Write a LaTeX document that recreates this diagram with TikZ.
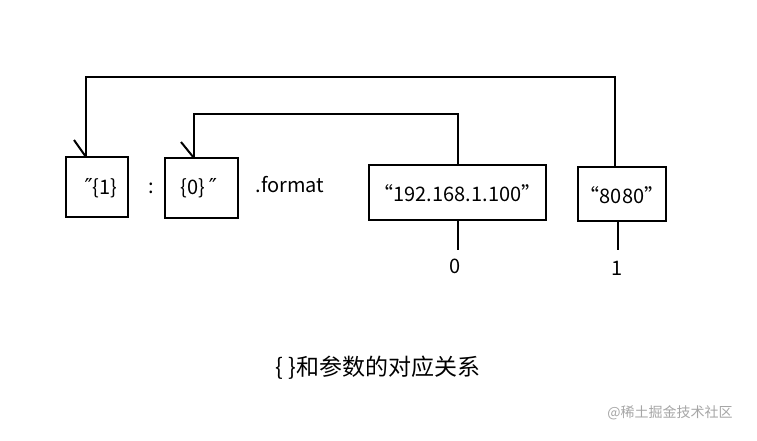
\documentclass[tikz,border=0pt]{standalone}
\usepackage{fontspec}
\setmainfont{Noto Sans CJK SC}
\newfontfamily\djv{DejaVu Sans}
\begin{document}
\begin{tikzpicture}[x=1pt,y=-1pt,
  bx/.style={draw,line width=2.5pt,inner sep=0pt},
  ln/.style={line width=2pt},
  lb/.style={font=\fontsize{20}{24}\selectfont}]
\useasboundingbox[fill=white] (0,0) rectangle (757,440);
\node[bx,minimum width=62,minimum height=60] (b1) at (97,187) {};
\node[lb] at (101,188) {{\djv\fontsize{22}{24}\selectfont ″}\{1\}};
\node[bx,minimum width=73,minimum height=60] (b2) at (201.5,188) {};
\node[lb] at (199,188) {\{0\}\,{\djv\fontsize{22}{24}\selectfont ″}};
\node[bx,minimum width=177,minimum height=55] (b3) at (457.5,192.5) {};
\node[lb] at (457.5,193) {“192.168.1.100”};
\node[bx,minimum width=88,minimum height=54] (b4) at (622,194) {};
\node[lb] at (622,195) {“8080”};
\node[lb] (colon) at (151,188) {:};
\node[lb] (fmt) at (290,185) {.format};
\coordinate (t1) at (86,157);
\coordinate (t4) at (615,167);
\coordinate (t2) at (194,158);
\coordinate (t3) at (458,165);
\draw[ln] (t1) -- (86,77) -- (615,77) -- (t4);
\draw[ln] (t2) -- (194,114) -- (458,114) -- (t3);
\draw[ln] (74,140) -- (t1);
\draw[ln] (181,142) -- (t2);
\draw[ln] (458,220) -- (458,250);
\draw[ln] (618,221) -- (618,250);
\node[lb] (n0) at (455,266) {0};
\node[lb] (n1) at (617,268) {1};
\node[font=\fontsize{23}{26}\selectfont] (cap) at (378,368) {\{ \}和参数的对应关系};
\node[font=\fontsize{14}{17}\selectfont,text=gray!70] (wm) at (670,413) {@稀土掘金技术社区};
\end{tikzpicture}
\end{document}
